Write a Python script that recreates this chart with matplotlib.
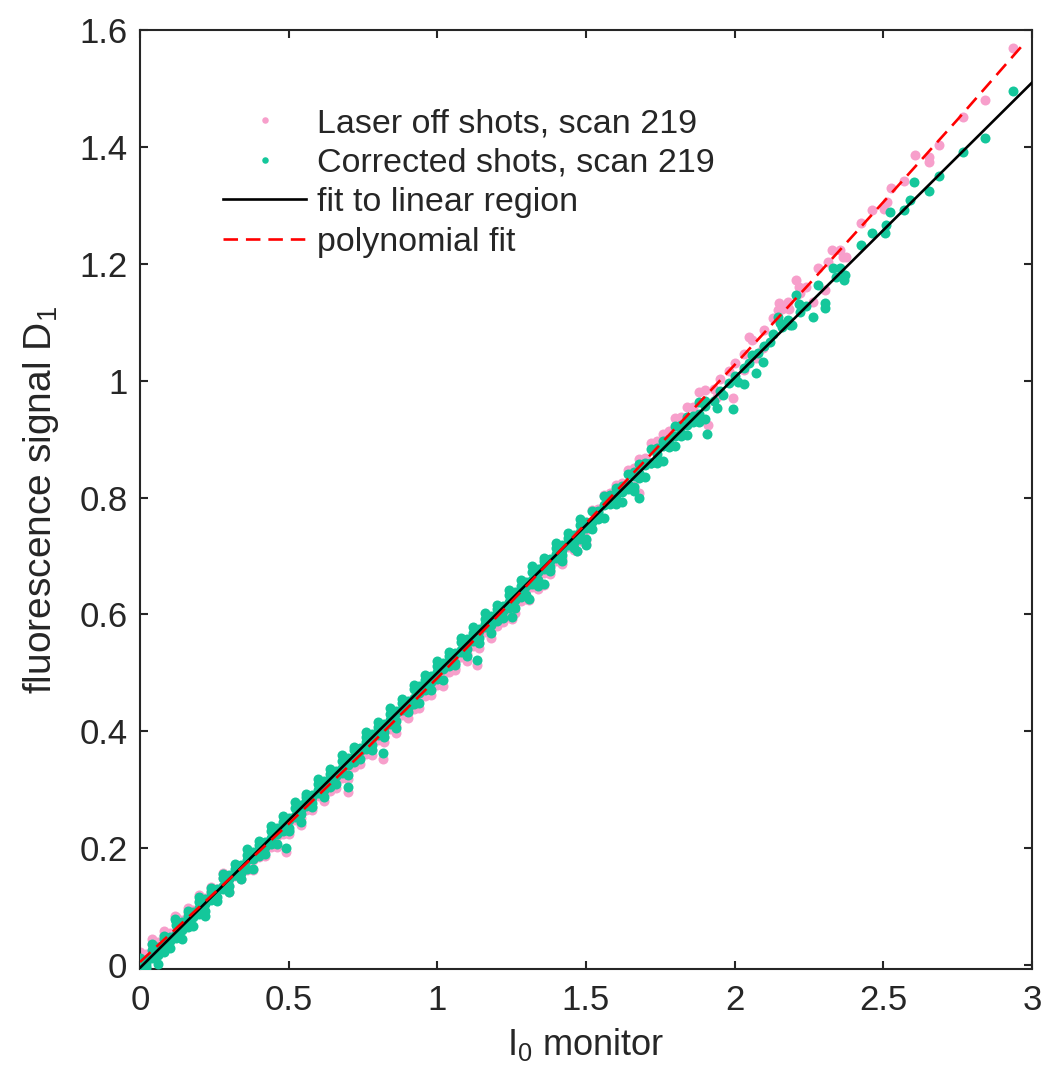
import matplotlib
matplotlib.use("Agg")
import matplotlib.pyplot as plt

plt.rcParams["font.family"] = ["Liberation Sans", "DejaVu Sans"]
plt.rcParams["mathtext.fontset"] = "custom"
plt.rcParams["mathtext.rm"] = "Liberation Sans"
plt.rcParams["mathtext.it"] = "Liberation Sans"

PINK = "#f79fcb"
GREEN = "#14c79b"
AXIS_GREY = "#262626"

# dense band of shots, x positions shared by the green rows and the pink row
band_x = [
    0.00, 0.02, 0.04, 0.06, 0.08, 0.10, 0.12, 0.14, 0.16, 0.18,
    0.20, 0.22, 0.24, 0.26, 0.28, 0.30, 0.32, 0.34, 0.36, 0.38,
    0.40, 0.42, 0.44, 0.46, 0.48, 0.50, 0.52, 0.54, 0.56, 0.58,
    0.60, 0.62, 0.64, 0.66, 0.68, 0.70, 0.72, 0.74, 0.76, 0.78,
    0.80, 0.82, 0.84, 0.86, 0.88, 0.90, 0.92, 0.94, 0.96, 0.98,
    1.00, 1.02, 1.04, 1.06, 1.08, 1.10, 1.12, 1.14, 1.16, 1.18,
    1.20, 1.22, 1.24, 1.26, 1.28, 1.30, 1.32, 1.34, 1.36, 1.38,
    1.40, 1.42, 1.44, 1.46, 1.48, 1.50, 1.52, 1.54, 1.56, 1.58,
    1.60, 1.62, 1.64, 1.66, 1.68, 1.70, 1.72, 1.74, 1.76, 1.78,
    1.80, 1.82, 1.84, 1.86, 1.88, 1.90,
]
green_upper = [
    0.0030, 0.0091, 0.0262, 0.0313, 0.0444, 0.0485, 0.0676, 0.0727, 0.0838, 0.0899,
    0.1070, 0.1121, 0.1252, 0.1293, 0.1484, 0.1535, 0.1646, 0.1707, 0.1878, 0.1929,
    0.2060, 0.2101, 0.2292, 0.2343, 0.2454, 0.2515, 0.2686, 0.2737, 0.2868, 0.2909,
    0.3100, 0.3151, 0.3262, 0.3323, 0.3494, 0.3545, 0.3676, 0.3717, 0.3908, 0.3959,
    0.4070, 0.4131, 0.4302, 0.4353, 0.4484, 0.4525, 0.4716, 0.4767, 0.4878, 0.4939,
    0.5110, 0.5161, 0.5292, 0.5333, 0.5524, 0.5575, 0.5686, 0.5747, 0.5918, 0.5969,
    0.6100, 0.6141, 0.6332, 0.6383, 0.6494, 0.6555, 0.6726, 0.6777, 0.6908, 0.6949,
    0.7140, 0.7191, 0.7302, 0.7363, 0.7534, 0.7585, 0.7770, 0.7775, 0.8020, 0.8041,
    0.8158, 0.8195, 0.8408, 0.8429, 0.8578, 0.8583, 0.8828, 0.8849, 0.8966, 0.9003,
    0.9216, 0.9237, 0.9386, 0.9391, 0.9636, 0.9657,
]
green_mid = [
    -0.0020, 0.0031, 0.0152, 0.0273, 0.0344, 0.0465, 0.0536, 0.0657, 0.0778, 0.0849,
    0.0970, 0.1041, 0.1162, 0.1283, 0.1354, 0.1475, 0.1546, 0.1667, 0.1788, 0.1859,
    0.1980, 0.2051, 0.2172, 0.2293, 0.2364, 0.2485, 0.2556, 0.2677, 0.2798, 0.2869,
    0.2990, 0.3061, 0.3182, 0.3303, 0.3374, 0.3495, 0.3566, 0.3687, 0.3808, 0.3879,
    0.4000, 0.4071, 0.4192, 0.4313, 0.4384, 0.4505, 0.4576, 0.4697, 0.4818, 0.4889,
    0.5010, 0.5081, 0.5202, 0.5323, 0.5394, 0.5515, 0.5586, 0.5707, 0.5828, 0.5899,
    0.6020, 0.6091, 0.6212, 0.6333, 0.6404, 0.6525, 0.6596, 0.6717, 0.6838, 0.6909,
    0.7030, 0.7101, 0.7222, 0.7343, 0.7414, 0.7535, 0.7586, 0.7727, 0.7868, 0.7909,
    0.8050, 0.8091, 0.8232, 0.8373, 0.8414, 0.8555, 0.8596, 0.8737, 0.8878, 0.8919,
    0.9060, 0.9101, 0.9242, 0.9383, 0.9424, 0.9565,
]
green_lower = [
    -0.0040, -0.0020, 0.0122, 0.0163, 0.0224, 0.0405, 0.0456, 0.0597, 0.0648, 0.0829,
    0.0870, 0.0931, 0.1112, 0.1163, 0.1304, 0.1355, 0.1536, 0.1577, 0.1638, 0.1819,
    0.1870, 0.2011, 0.2062, 0.2243, 0.2284, 0.2345, 0.2526, 0.2577, 0.2718, 0.2769,
    0.2950, 0.2991, 0.3052, 0.3233, 0.3284, 0.3425, 0.3476, 0.3657, 0.3698, 0.3759,
    0.3940, 0.3991, 0.4132, 0.4183, 0.4364, 0.4405, 0.4466, 0.4647, 0.4698, 0.4839,
    0.4890, 0.5071, 0.5112, 0.5173, 0.5354, 0.5405, 0.5546, 0.5597, 0.5778, 0.5819,
    0.5880, 0.6061, 0.6112, 0.6253, 0.6304, 0.6485, 0.6526, 0.6587, 0.6768, 0.6819,
    0.6960, 0.7011, 0.7192, 0.7233, 0.7294, 0.7475, 0.7466, 0.7631, 0.7652, 0.7881,
    0.7886, 0.7923, 0.8152, 0.8173, 0.8338, 0.8359, 0.8588, 0.8593, 0.8630, 0.8859,
    0.8880, 0.9045, 0.9066, 0.9295, 0.9300, 0.9337,
]
pink_band = [
    0.0134, 0.0187, 0.0350, 0.0393, 0.0516, 0.0550, 0.0734, 0.0777, 0.0881, 0.0936,
    0.1100, 0.1145, 0.1270, 0.1305, 0.1490, 0.1355, 0.1530, 0.1566, 0.1622, 0.1798,
    0.1844, 0.1980, 0.2027, 0.2203, 0.2240, 0.2297, 0.2474, 0.2522, 0.2659, 0.2707,
    0.2885, 0.2923, 0.2981, 0.3160, 0.3208, 0.3347, 0.3396, 0.3575, 0.3614, 0.3674,
    0.3853, 0.3903, 0.4043, 0.4093, 0.4273, 0.4314, 0.4375, 0.4555, 0.4606, 0.4748,
    0.4799, 0.4980, 0.5022, 0.5084, 0.5266, 0.5318, 0.5461, 0.5513, 0.5696, 0.5739,
    0.5802, 0.5985, 0.6039, 0.6182, 0.6236, 0.6420, 0.6464, 0.6528, 0.6713, 0.6767,
    0.6912, 0.6967, 0.7152, 0.7198, 0.7263, 0.7449, 0.7780, 0.7795, 0.8050, 0.8081,
    0.8208, 0.8253, 0.8474, 0.8503, 0.8660, 0.8673, 0.8928, 0.8959, 0.9086, 0.9133,
    0.9356, 0.9385, 0.9542, 0.9555, 0.9808, 0.9837,
]

# outer edges of the band (every other shot sticks out a bit further)
outer_upper_x = [
    0.00, 0.04, 0.08, 0.12, 0.16, 0.20, 0.24, 0.28, 0.32, 0.36,
    0.40, 0.44, 0.48, 0.52, 0.56, 0.60, 0.64, 0.68, 0.72, 0.76,
    0.80, 0.84, 0.88, 0.92, 0.96, 1.00, 1.04, 1.08, 1.12, 1.16,
    1.20, 1.24, 1.28, 1.32, 1.36, 1.40, 1.44, 1.48,
]
outer_upper_y = [
    0.0120, 0.0362, 0.0504, 0.0756, 0.0928, 0.1170, 0.1312, 0.1564, 0.1736, 0.1978,
    0.2120, 0.2372, 0.2544, 0.2786, 0.2928, 0.3180, 0.3352, 0.3594, 0.3736, 0.3988,
    0.4160, 0.4402, 0.4544, 0.4796, 0.4968, 0.5210, 0.5352, 0.5604, 0.5776, 0.6018,
    0.6160, 0.6412, 0.6584, 0.6826, 0.6968, 0.7220, 0.7392, 0.7634,
]
outer_lower_x = [
    0.02, 0.06, 0.10, 0.14, 0.18, 0.22, 0.26, 0.30, 0.34, 0.38,
    0.42, 0.46, 0.50, 0.54, 0.58, 0.62, 0.66, 0.70, 0.74, 0.78,
    0.82, 0.86, 0.90, 0.94, 0.98, 1.02, 1.06, 1.10, 1.14, 1.18,
    1.22, 1.26, 1.30, 1.34, 1.38, 1.42, 1.46, 1.50,
]
outer_lower_y = [
    -0.0060, 0.0023, 0.0285, 0.0447, 0.0669, 0.0831, 0.1093, 0.1255, 0.1477, 0.1639,
    0.1901, 0.2063, 0.2285, 0.2447, 0.2709, 0.2871, 0.3093, 0.3255, 0.3517, 0.3679,
    0.3901, 0.4063, 0.4325, 0.4487, 0.4709, 0.4871, 0.5133, 0.5295, 0.5517, 0.5679,
    0.5941, 0.6103, 0.6325, 0.6487, 0.6749, 0.6911, 0.7133, 0.7295,
]
pink_outer_x = [
    0.00, 0.04, 0.08, 0.12, 0.16, 0.20, 0.24, 0.28,
    0.30, 0.34, 0.38, 0.42, 0.46, 0.50, 0.54, 0.58, 0.62, 0.66,
    0.70, 0.74, 0.78, 0.82, 0.86, 0.90, 0.94, 0.98, 1.02, 1.06,
    1.10, 1.14, 1.18, 1.22, 1.26, 1.30, 1.34, 1.38, 1.42, 1.46, 1.50,
]
pink_outer_y = [
    0.0224, 0.0450, 0.0576, 0.0814, 0.0971, 0.1200, 0.1330, 0.1570,
    0.1255, 0.1466, 0.1618, 0.1870, 0.2023, 0.2237, 0.2392, 0.2647, 0.2803, 0.3020,
    0.3177, 0.3435, 0.3594, 0.3813, 0.3973, 0.4234, 0.4395, 0.4618, 0.4780, 0.5044,
    0.5208, 0.5433, 0.5599, 0.5865, 0.6032, 0.6260, 0.6428, 0.6697, 0.6867, 0.7098, 0.7269,
]

# outliers and the sparse high-intensity shots
green_extra_x = [
    0.118, 0.49, 0.70, 0.818, 1.135, 1.25, 1.31, 1.36, 1.47, 1.50, 1.66, 1.68,
    1.907, 1.994, 1.940, 2.030, 2.073, 2.095, 2.185,
    1.93, 1.95, 1.96, 1.98, 2.00, 2.01, 2.03, 2.05, 2.06, 2.08, 2.10, 2.12, 2.13, 2.16, 2.18, 2.22, 2.24,
    2.145, 2.153, 2.192, 2.206, 2.217, 2.263, 2.281, 2.303, 2.304, 2.330,
    2.341, 2.355, 2.369, 2.371, 2.424, 2.461, 2.506, 2.508, 2.523, 2.570,
    2.590, 2.604, 2.655, 2.686, 2.767, 2.842, 2.937,
]
green_extra_y = [
    0.078, 0.200, 0.305, 0.362, 0.522, 0.596, 0.627, 0.652, 0.708, 0.718, 0.812, 0.800,
    0.909, 0.952, 0.954, 0.995, 1.013, 1.032, 1.095,
    0.966, 0.982, 0.975, 0.996, 1.008, 0.998, 1.022, 1.030, 1.044, 1.048, 1.060, 1.066, 1.080, 1.092, 1.104, 1.118, 1.128,
    1.109, 1.098, 1.095, 1.146, 1.132, 1.109, 1.163, 1.133, 1.125, 1.192,
    1.178, 1.192, 1.173, 1.181, 1.232, 1.252, 1.252, 1.266, 1.288, 1.292,
    1.309, 1.340, 1.324, 1.350, 1.392, 1.416, 1.496,
]
pink_extra_x = [
    0.118, 0.49, 0.70, 0.818, 1.135, 1.25, 1.31, 1.36, 1.47, 1.50, 1.66, 1.68,
    1.910, 1.994, 1.940, 2.030, 2.073, 2.095, 2.184,
    1.93, 1.95, 1.98, 2.00, 2.03, 2.06, 2.10, 2.13, 2.16, 2.18, 2.22, 2.24,
    2.050, 2.147, 2.149, 2.206, 2.216, 2.265, 2.281, 2.305, 2.315, 2.326,
    2.355, 2.363, 2.373, 2.424, 2.461, 2.503, 2.511, 2.525, 2.568, 2.607,
    2.655, 2.655, 2.686, 2.767, 2.842, 2.937,
]
pink_extra_y = [
    0.084, 0.194, 0.296, 0.352, 0.514, 0.592, 0.624, 0.650, 0.709, 0.720, 0.819, 0.808,
    0.924, 0.971, 0.972, 1.018, 1.038, 1.056, 1.122,
    0.985, 1.002, 1.016, 1.030, 1.046, 1.070, 1.086, 1.108, 1.122, 1.135, 1.150, 1.161,
    1.074, 1.121, 1.133, 1.172, 1.161, 1.135, 1.192, 1.155, 1.203, 1.223,
    1.223, 1.212, 1.211, 1.269, 1.292, 1.293, 1.306, 1.329, 1.342, 1.386,
    1.375, 1.383, 1.403, 1.451, 1.480, 1.569,
]

# fit curves
fit_x = [0.0, 3.0]
fit_y = [-0.005, 1.510]
poly_x = [0.0, 0.25, 0.5, 0.75, 1.0, 1.25, 1.5, 1.75, 2.0, 2.25, 2.5, 2.75, 2.97]
poly_y = [0.005, 0.123, 0.2415, 0.364, 0.491, 0.622, 0.7555, 0.891, 1.027, 1.165, 1.3055, 1.447, 1.575]

x_ticks = [0, 0.5, 1, 1.5, 2, 2.5, 3]
x_tick_labels = ["0", "0.5", "1", "1.5", "2", "2.5", "3"]
y_ticks = [0, 0.2, 0.4, 0.6, 0.8, 1.0, 1.2, 1.4, 1.6]
y_tick_labels = ["0", "0.2", "0.4", "0.6", "0.8", "1", "1.2", "1.4", "1.6"]

pink_x = band_x + pink_outer_x + pink_extra_x
pink_y = pink_band + pink_outer_y + pink_extra_y
green_x = band_x * 3 + outer_upper_x + outer_lower_x + green_extra_x
green_y = green_upper + green_mid + green_lower + outer_upper_y + outer_lower_y + green_extra_y

fig = plt.figure(figsize=(10.43, 10.82), dpi=100)
ax = fig.add_axes([0.1342, 0.1044, 0.8552, 0.8678])

ax.plot(pink_x, pink_y, "o", ls="none", ms=7.2, mew=0, color=PINK,
        label="Laser off shots, scan 219", zorder=2)
ax.plot(green_x, green_y, "o", ls="none", ms=7.2, mew=0, color=GREEN,
        label="Corrected shots, scan 219", zorder=3)
ax.plot(fit_x, fit_y, color="black", lw=1.9, label="fit to linear region", zorder=4)
ax.plot(poly_x, poly_y, color="#ff0000", lw=1.9, ls=(0, (5.5, 3)),
        label="polynomial fit", zorder=5)

ax.set_xlim(0, 3)
ax.set_ylim(-0.007, 1.6)
ax.set_xticks(x_ticks, x_tick_labels)
ax.set_yticks(y_ticks, y_tick_labels)
ax.tick_params(direction="in", length=6, width=1.5, top=True, right=True,
               labelsize=25, colors=AXIS_GREY)
ax.tick_params(axis="x", pad=11)
ax.tick_params(axis="y", pad=9)
for spine in ax.spines.values():
    spine.set_linewidth(1.5)
    spine.set_color(AXIS_GREY)

ax.set_xlabel("I$_0$ monitor", fontsize=26, color=AXIS_GREY, labelpad=6)
ax.set_ylabel("fluorescence signal D$_1$", fontsize=28, color=AXIS_GREY, labelpad=13)

ax.legend(loc="upper left", bbox_to_anchor=(0.093, 0.917), frameon=False,
          fontsize=24.5, handlelength=2.45, handletextpad=0.3, labelspacing=0.25,
          borderpad=0, borderaxespad=0, markerscale=0.65, labelcolor=AXIS_GREY)

fig.savefig("out.png", dpi=100)
